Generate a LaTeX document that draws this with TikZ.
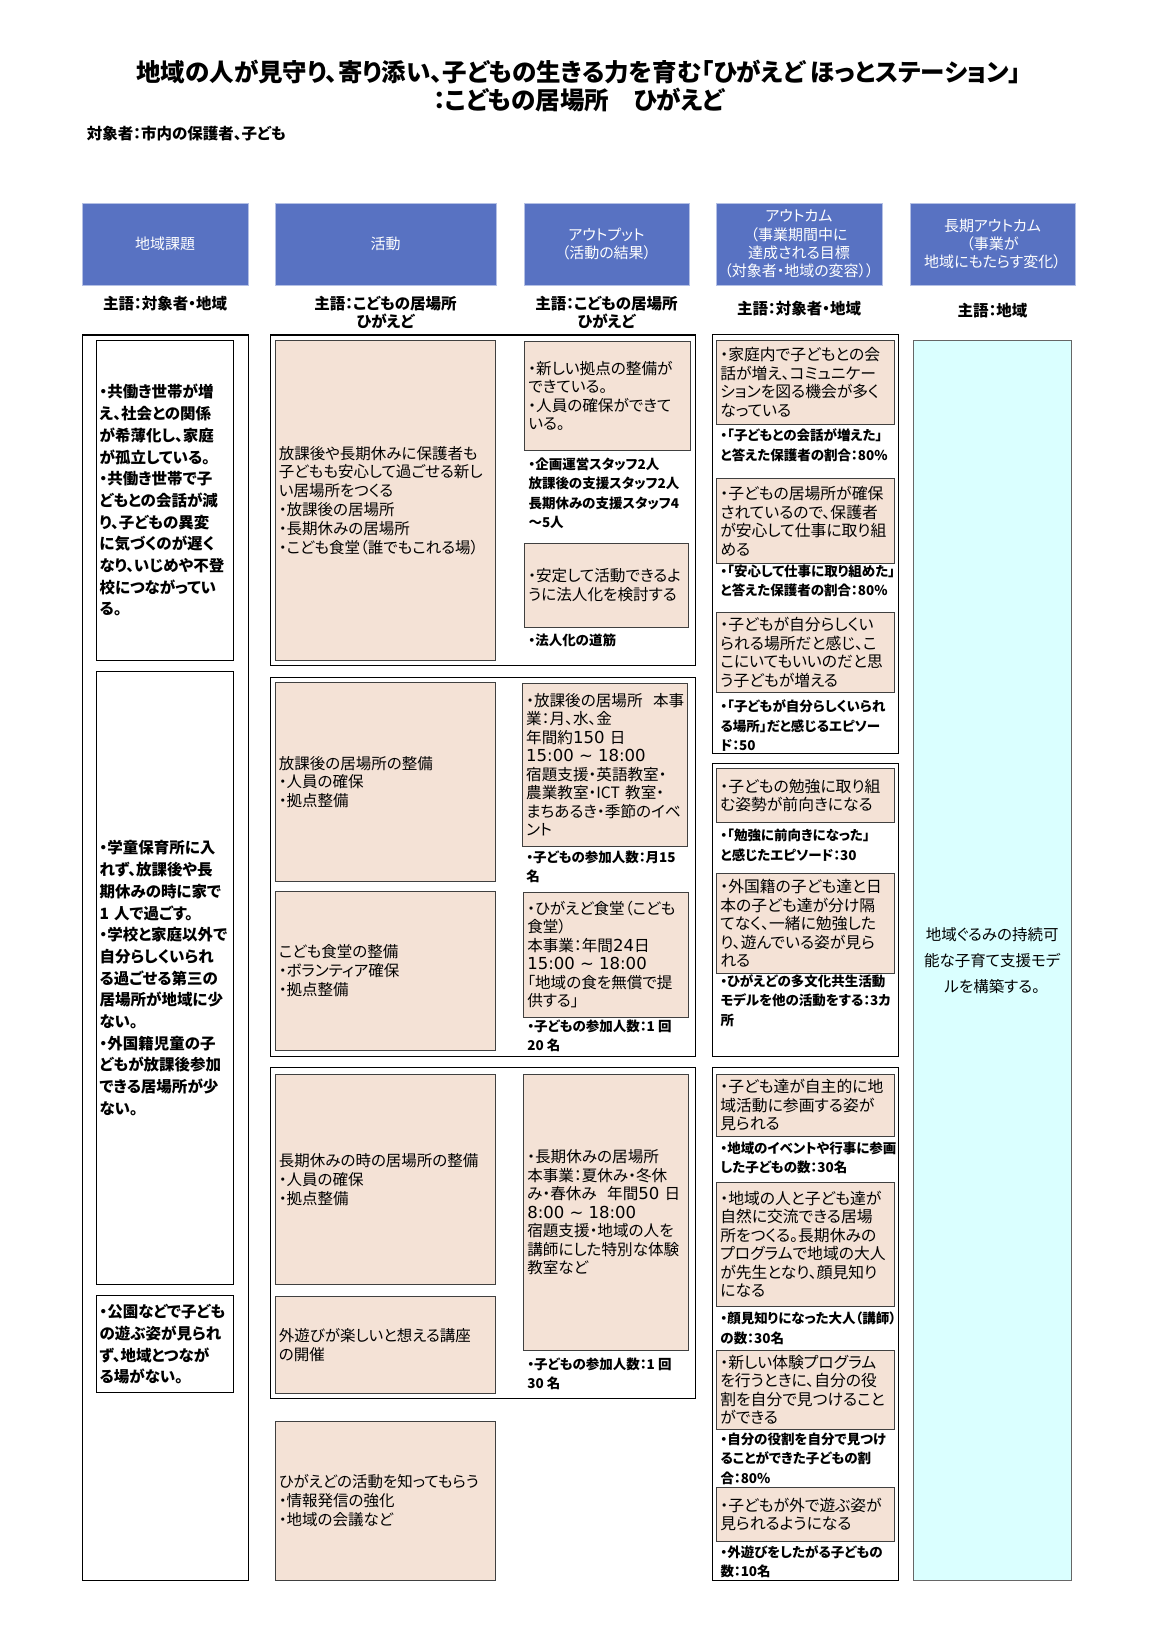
\documentclass[tikz,border=0pt]{standalone}
\usepackage{fontspec}
\setmainfont{Noto Sans CJK JP}[RawFeature=+palt]
\newfontfamily\cifras{DejaVu Sans}[Scale=1.06]
\usepackage{tikz}
\usetikzlibrary{positioning}
\definecolor{cabecera}{RGB}{88,114,194}
\definecolor{melocoton}{RGB}{244,226,214}
\definecolor{celeste}{RGB}{218,255,255}
\definecolor{borde}{RGB}{64,64,64}

\begin{document}
\begin{tikzpicture}[x=1pt, y=-1pt,
  cab/.style={fill=cabecera, draw=cabecera!45!white, line width=1pt, text=white,
              align=center, inner sep=0pt, font=\fontsize{15}{18.3}\selectfont},
  suj/.style={align=center, inner sep=0pt, font=\bfseries\fontsize{15.5}{17.7}\selectfont},
  marco/.style={draw=black, line width=1.1pt, inner sep=0pt},
  blanca/.style={draw=black, line width=1pt, align=left, inner xsep=3.5pt, inner ysep=0pt,
                 font=\bfseries\fontsize{15.5}{21.7}\selectfont},
  caja/.style={draw=borde, fill=melocoton, line width=1pt, align=left,
               inner xsep=3.5pt, inner ysep=0pt},
  act/.style={caja, font=\fontsize{15.5}{18.8}\selectfont},
  sal/.style={caja, font=\fontsize{15.6}{18.5}\selectfont},
  res/.style={caja, font=\fontsize{15.8}{18.5}\selectfont},
  nota/.style={anchor=west, align=left, inner xsep=3.5pt, inner ysep=0pt,
               font=\bfseries\fontsize{13.5}{19.5}\selectfont}]
  \useasboundingbox (0,0) rectangle (1157,1636);
  \fill[white] (0,0) rectangle (1157,1636);
  % Titulo
  \node[align=center, font=\bfseries\fontsize{24.5}{28.2}\selectfont] (titulo) at (579,86)
       {地域の人が見守り、寄り添い、子どもの生きる力を育む「ひがえど ほっとステーション」\\：こどもの居場所　ひがえど};
  \node[anchor=west, inner sep=0pt, font=\bfseries\fontsize{15.5}{17}\selectfont] (objetivo)
       at (86.6,133.5) {対象者：市内の保護者、子ども};
  % Encabezados
  \foreach \cx/\w/\txt [count=\i] in {165/166pt/{地域課題}, 385.5/221pt/{活動},
      606.5/165pt/{アウトプット\\（活動の結果）},
      799/166pt/{アウトカム\\（事業期間中に\\達成される目標\\（対象者・地域の変容））},
      992.5/165pt/{長期アウトカム\\（事業が\\地域にもたらす変化）}}{
    \node[cab, minimum width=\w, minimum height=82pt] (cab\i) at (\cx,244) {\txt};
  }
  \foreach \cx/\cy/\txt [count=\i] in {165/303.6/{主語：対象者・地域},
      385.5/312.5/{主語：こどもの居場所\\ひがえど},
      606.5/312.5/{主語：こどもの居場所\\ひがえど},
      799/308.8/{主語：対象者・地域}, 992.5/310.9/{主語：地域}}{
    \node[suj] (suj\i) at (\cx,\cy) {\txt};
  }
  % Problemas de la zona
  \node[marco, minimum width=166pt, minimum height=1245.7pt] (m1) at (165.3,957.8) {};
  \node[blanca, text width=130.7pt, minimum height=320.3pt] (prob1) at (164.9,500.3)
       {・共働き世帯が増\\え、社会との関係\\が希薄化し、家庭\\が孤立している。\\・共働き世帯で子\\どもとの会話が減\\り、子どもの異変\\に気づくのが遅く\\なり、いじめや不登\\校につながってい\\る。};
  \node[blanca, text width=130.7pt, minimum height=612.4pt] (prob2) at (164.9,978.1)
       {・学童保育所に入\\れず、放課後や長\\期休みの時に家で\\1 人で過ごす。\\・学校と家庭以外で\\自分らしくいられ\\る過ごせる第三の\\居場所が地域に少\\ない。\\・外国籍児童の子\\どもが放課後参加\\できる居場所が少\\ない。};
  \node[blanca, text width=130.7pt, minimum height=97pt] (prob3) at (164.9,1344.3)
       {・公園などで子ども\\の遊ぶ姿が見られ\\ず、地域とつなが\\る場がない。};
  % Actividades y resultados
  \node[marco, minimum width=425.7pt, minimum height=330.7pt] (gA) at (483,500.3) {};
  \node[marco, minimum width=425.7pt, minimum height=379.8pt] (gB) at (483,867) {};
  \node[marco, minimum width=425.7pt, minimum height=330.7pt] (gC) at (483,1232.7) {};
  \node[act, text width=213.2pt, minimum height=320.3pt] (actA) at (385.5,500.3)
       {放課後や長期休みに保護者も\\子どもも安心して過ごせる新し\\い居場所をつくる\\・放課後の居場所\\・長期休みの居場所\\・こども食堂（誰でもこれる場）};
  \node[act, text width=213.2pt, minimum height=199.3pt] (actB1) at (385.5,782)
       {放課後の居場所の整備\\・人員の確保\\・拠点整備};
  \node[act, text width=213.2pt, minimum height=159.6pt] (actB2) at (385.5,970.8)
       {こども食堂の整備\\・ボランティア確保\\・拠点整備};
  \node[act, text width=213.2pt, minimum height=209.7pt] (actC1) at (385.5,1179.5)
       {長期休みの時の居場所の整備\\・人員の確保\\・拠点整備};
  \node[act, text width=213.2pt, minimum height=97pt] (actC2) at (385.5,1345.3)
       {外遊びが楽しいと想える講座\\の開催};
  \node[act, text width=213.2pt, minimum height=159.6pt] (actD) at (385.5,1500.8)
       {ひがえどの活動を知ってもらう\\・情報発信の強化\\・地域の会議など};
  \node[sal, text width=158.9pt, minimum height=109.5pt] (salA1) at (607.8,396)
       {・新しい拠点の整備が\\できている。\\・人員の確保ができて\\いる。};
  \node[nota] (notaA1) at (524.8,493.5)
       {・企画運営スタッフ2人\\放課後の支援スタッフ2人\\長期休みの支援スタッフ4\\〜5人};
  \node[sal, text width=156.8pt, minimum height=83.4pt] (salA2) at (606.7,585.3)
       {・安定して活動できるよ\\うに法人化を検討する};
  \node[nota] (notaA2) at (524.8,640.6) {・法人化の道筋};
  \node[sal, text width=157.8pt, minimum height=162.7pt] (salB1) at (605.1,764.8)
       {\mbox{・放課後の居場所\ \ 本事}\\業：月、水、金\\年間約{\cifras 150} 日\\{\cifras 15:00 \textasciitilde{} 18:00}\\宿題支援・英語教室・\\農業教室・ICT 教室・\\まちあるき・季節のイベ\\ント};
  \node[nota] (notaB1) at (522.7,867) {・子どもの参加人数：月15\\名};
  \node[sal, text width=157.9pt, minimum height=125.2pt] (salB2) at (606.2,954.6)
       {・ひがえど食堂（こども\\食堂）\\本事業：年間{\cifras 24}日\\{\cifras 15:00 \textasciitilde{} 18:00}\\「地域の食を無償で提\\供する」};
  \node[nota] (notaB2) at (523.7,1036) {・子どもの参加人数：1 回\\20 名};
  \node[sal, text width=157.9pt, minimum height=275.4pt] (salC) at (606.2,1212.3)
       {・長期休みの居場所\\本事業：夏休み・冬休\\\mbox{み・春休み\ \ 年間{\cifras 50} 日}\\{\cifras 8:00 \textasciitilde{} 18:00}\\宿題支援・地域の人を\\講師にした特別な体験\\教室など};
  \node[nota] (notaC) at (523.7,1374) {・子どもの参加人数：1 回\\30 名};
  % Resultados esperados
  \node[marco, minimum width=185.7pt, minimum height=418.4pt] (g4A) at (805.5,544.1) {};
  \node[marco, minimum width=185.7pt, minimum height=293.2pt] (g4B) at (805.5,910.3) {};
  \node[marco, minimum width=185.7pt, minimum height=513.3pt] (g4C) at (805.5,1324) {};
  \node[res, text width=170.3pt, minimum height=84.5pt] (resA1) at (805.5,382.4)
       {・家庭内で子どもとの会\\話が増え、コミュニケー\\ションを図る機会が多く\\なっている};
  \node[nota] (ind1) at (716.8,445) {・「子どもとの会話が増えた」\\と答えた保護者の割合：80\%};
  \node[res, text width=170.3pt, minimum height=84.5pt] (resA2) at (805.5,521.2)
       {・子どもの居場所が確保\\されているので、保護者\\が安心して仕事に取り組\\める};
  \node[nota] (ind2) at (716.8,581.1) {・「安心して仕事に取り組めた」\\と答えた保護者の割合：80\%};
  \node[res, text width=170.3pt, minimum height=80.4pt] (resA3) at (805.5,652.6)
       {・子どもが自分らしくい\\られる場所だと感じ、こ\\こにいてもいいのだと思\\う子どもが増える};
  \node[nota] (ind3) at (716.8,725.6) {・「子どもが自分らしくいられ\\る場所」だと感じるエピソー\\ド：50};
  \node[res, text width=170.3pt, minimum height=53.2pt] (resB1) at (805.5,795.5)
       {・子どもの勉強に取り組\\む姿勢が前向きになる};
  \node[nota] (ind4) at (716.8,845.1) {・「勉強に前向きになった」\\と感じたエピソード：30};
  \node[res, text width=170.3pt, minimum height=100.2pt] (resB2) at (805.5,923.3)
       {・外国籍の子ども達と日\\本の子ども達が分け隔\\てなく、一緒に勉強した\\り、遊んでいる姿が見ら\\れる};
  \node[nota] (ind5) at (716.8,1000.5) {・ひがえどの多文化共生活動\\モデルを他の活動をする：3カ\\所};
  \node[res, text width=170.3pt, minimum height=61.6pt] (resC1) at (805.5,1105.4)
       {・子ども達が自主的に地\\域活動に参画する姿が\\見られる};
  \node[nota] (ind6) at (716.8,1158) {・地域のイベントや行事に参画\\した子どもの数：30名};
  \node[res, text width=170.3pt, minimum height=124.1pt] (resC2) at (805.5,1244.2)
       {・地域の人と子ども達が\\自然に交流できる居場\\所をつくる。長期休みの\\プログラムで地域の大人\\が先生となり、顔見知り\\になる};
  \node[nota] (ind7) at (716.8,1328.1) {・顔見知りになった大人（講師）\\の数：30名};
  \node[res, text width=170.3pt, minimum height=79.3pt] (resC3) at (805.5,1389.7)
       {・新しい体験プログラム\\を行うときに、自分の役\\割を自分で見つけること\\ができる};
  \node[nota] (ind8) at (716.8,1458.5) {・自分の役割を自分で見つけ\\ることができた子どもの割\\合：80\%};
  \node[res, text width=170.3pt, minimum height=53.3pt] (resC4) at (805.5,1514.4)
       {・子どもが外で遊ぶ姿が\\見られるようになる};
  \node[nota] (ind9) at (716.8,1561.8) {・外遊びをしたがる子どもの\\数：10名};
  % Largo plazo
  \node[draw=borde!80!white, fill=celeste, line width=1pt, align=center, inner sep=0pt,
        text width=157.8pt, minimum height=1240.5pt, font=\fontsize{15.5}{26}\selectfont]
       (largo) at (992.2,960.4) {地域ぐるみの持続可\\能な子育て支援モデ\\ルを構築する。};
\end{tikzpicture}
\end{document}
